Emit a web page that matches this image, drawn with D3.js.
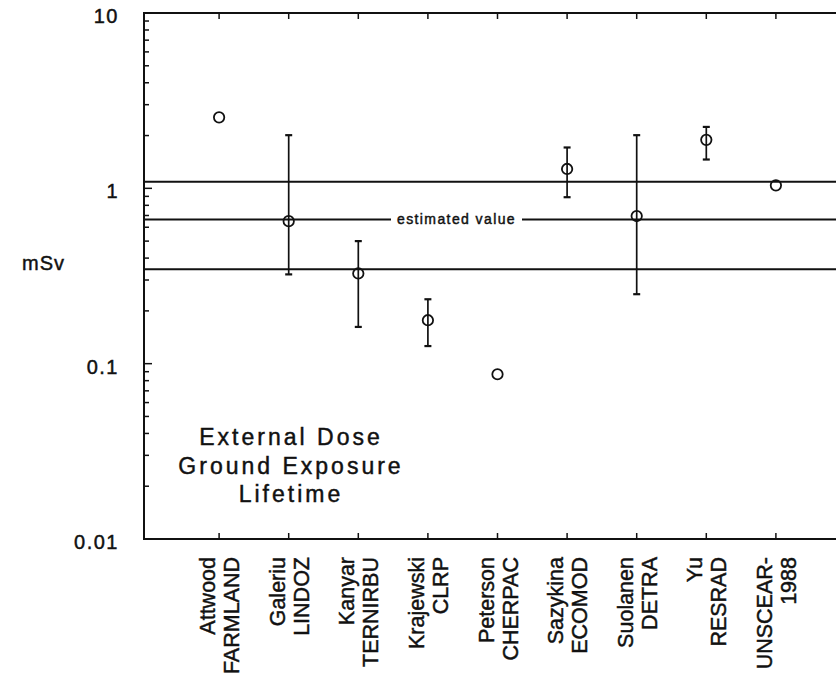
<!DOCTYPE html>
<html><head><meta charset="utf-8">
<script src="https://cdn.jsdelivr.net/npm/d3@7"></script>
<style>body{margin:0;background:#fff}svg{display:block}text{font-family:"Liberation Sans",Arial,sans-serif;fill:#111;stroke:#111;stroke-width:0.45px}</style>
</head><body>
<script>
const authors = ["Attwood","Galeriu","Kanyar","Krajewski","Peterson","Sazykina","Suolanen","Yu","UNSCEAR-"];
const models  = ["FARMLAND","LINDOZ","TERNIRBU","CLRP","CHERPAC","ECOMOD","DETRA","RESRAD","1988"];
const values  = [2.54, 0.65, 0.327, 0.177, 0.087, 1.29, 0.695, 1.89, 1.04];
const upper   = [null, 2.01, 0.50, 0.233, null, 1.71, 2.01, 2.24, null];
const lower   = [null, 0.323, 0.162, 0.126, null, 0.89, 0.249, 1.46, null];
const refLines = [1.09, 0.665, 0.345];
const refLabel = "estimated value";
const yTicks = [10, 1, 0.1, 0.01];
const yTickLabels = ["10", "1", "0.1", "0.01"];
const yTitle = "mSv";
const note = ["External Dose", "Ground Exposure", "Lifetime"];

(function () {
const W = 836, H = 679;
const pL = 144, pT = 13, pB = 539, pR = 845;
const svg = d3.select("body").append("svg").attr("width", W).attr("height", H);

const x = d3.scaleLinear().domain([0, 10]).range([149.5, 845.5]);
const y = d3.scaleLog().domain([0.01, 10]).range([pB, pT]);

const ink = "#111";
svg.append("rect").attr("x", pL).attr("y", pT).attr("width", pR - pL).attr("height", pB - pT)
  .attr("fill", "none").attr("stroke", ink).attr("stroke-width", 2);

const allTicks = y.ticks();
svg.append("g").selectAll("line").data(allTicks).join("line")
  .attr("x1", pL).attr("x2", d => pL + (yTicks.some(t => Math.abs(t - d) < 1e-9) ? 8 : 5))
  .attr("y1", d => y(d)).attr("y2", d => y(d))
  .attr("stroke", ink).attr("stroke-width", 1.5);

svg.append("g").selectAll("text").data(yTicks).join("text")
  .attr("x", 119).attr("y", d => y(d) + 10)
  .attr("text-anchor", "end").attr("font-size", 20).attr("letter-spacing", 1.5)
  .text((d, i) => yTickLabels[i]);

svg.append("text").attr("x", 65).attr("y", 270).attr("text-anchor", "end")
  .attr("font-size", 20).attr("letter-spacing", 1).text(yTitle);

const idx = d3.range(authors.length);
svg.append("g").selectAll("line").data(idx).join("line")
  .attr("x1", i => x(i + 1)).attr("x2", i => x(i + 1)).attr("y1", pT).attr("y2", pT + 6)
  .attr("stroke", ink).attr("stroke-width", 1.5);
svg.append("g").selectAll("line").data(idx).join("line")
  .attr("x1", i => x(i + 1)).attr("x2", i => x(i + 1)).attr("y1", pB).attr("y2", pB - 6)
  .attr("stroke", ink).attr("stroke-width", 1.5);

const lab = svg.append("g").selectAll("g").data(idx).join("g")
  .attr("transform", i => `translate(${x(i + 1)},557) rotate(-90)`);
lab.append("text").attr("x", 0).attr("y", -4).attr("text-anchor", "end").attr("font-size", 21.5).text(i => authors[i]);
lab.append("text").attr("x", 0).attr("y", 20).attr("text-anchor", "end").attr("font-size", 21.5).text(i => models[i]);

const gapL = 391, gapR = 522;
refLines.forEach((v, k) => {
  if (k === 1) {
    svg.append("line").attr("x1", pL).attr("x2", gapL).attr("y1", y(v)).attr("y2", y(v)).attr("stroke", ink).attr("stroke-width", 2);
    svg.append("line").attr("x1", gapR).attr("x2", pR).attr("y1", y(v)).attr("y2", y(v)).attr("stroke", ink).attr("stroke-width", 2);
    svg.append("text").attr("x", (gapL + gapR) / 2).attr("y", y(v) + 4.5).attr("text-anchor", "middle")
      .attr("font-size", 14).attr("letter-spacing", 1.4).text(refLabel);
  } else {
    svg.append("line").attr("x1", pL).attr("x2", pR).attr("y1", y(v)).attr("y2", y(v)).attr("stroke", ink).attr("stroke-width", 2);
  }
});

const eb = idx.filter(i => upper[i] != null);
const eg = svg.append("g").attr("stroke", ink).attr("stroke-width", 1.7);
eg.selectAll(".v").data(eb).join("line").attr("class", "v")
  .attr("x1", i => x(i + 1)).attr("x2", i => x(i + 1)).attr("y1", i => y(upper[i])).attr("y2", i => y(lower[i]));
eg.selectAll(".u").data(eb).join("line").attr("class", "u")
  .attr("x1", i => x(i + 1) - 3.5).attr("x2", i => x(i + 1) + 3.5).attr("y1", i => y(upper[i])).attr("y2", i => y(upper[i])).attr("stroke-width", 2.2);
eg.selectAll(".l").data(eb).join("line").attr("class", "l")
  .attr("x1", i => x(i + 1) - 3.5).attr("x2", i => x(i + 1) + 3.5).attr("y1", i => y(lower[i])).attr("y2", i => y(lower[i])).attr("stroke-width", 2.2);

svg.append("g").selectAll("circle").data(idx).join("circle")
  .attr("cx", i => x(i + 1)).attr("cy", i => y(values[i])).attr("r", 5.2)
  .attr("fill", "none").attr("stroke", ink).attr("stroke-width", 1.8);

svg.append("g").selectAll("text").data(note).join("text")
  .attr("x", 291).attr("y", (d, i) => 445 + i * 28.5).attr("text-anchor", "middle")
  .attr("font-size", 23).attr("letter-spacing", 3).text(d => d);
})();
</script>
</body></html>
